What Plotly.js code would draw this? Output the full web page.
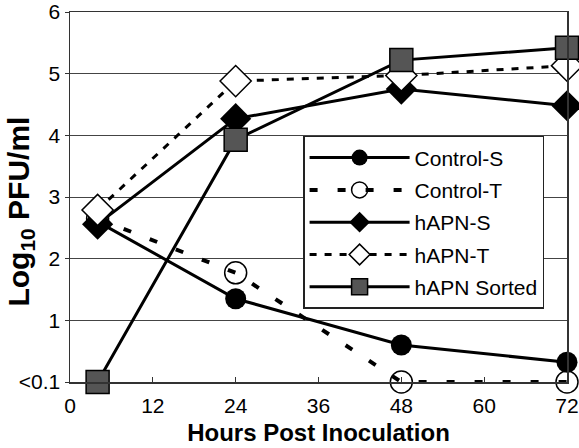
<!DOCTYPE html>
<html>
<head>
<meta charset="utf-8">
<script src="https://cdn.plot.ly/plotly-3.0.1.min.js"></script>
<style>html,body{margin:0;padding:0;background:#fff;}#chart{width:579px;height:448px;}</style>
</head>
<body>
<div id="chart"></div>
<script>
var hours = [4, 24, 48, 72];
var controlS = [2.6, 1.35, 0.6, 0.32];
var controlT = [2.65, 1.77, 0, 0];
var hapnS = [2.56, 4.27, 4.75, 4.48];
var hapnT = [2.79, 4.88, 4.97, 5.13];
var hapnSorted = [0, 3.93, 5.22, 5.42];
var xTicks = [0, 12, 24, 36, 48, 60, 72];
var yTickVals = [0, 1, 2, 3, 4, 5, 6];
var yTickText = ['<0.1', '1', '2', '3', '4', '5', '6'];

var traces = [
  {x: hours, y: controlS, name: 'Control-S', legendgroup: 'a', mode: 'lines+markers',
   line: {color: '#000', width: 3}, marker: {symbol: 'circle', size: 21, color: '#000'}},
  {x: hours, y: controlT, name: 'Control-T', legendgroup: 'b', mode: 'lines+markers',
   line: {color: '#000', width: 4, dash: '8px,20px'}, marker: {symbol: 'circle-open', size: 22, color: '#000', line: {width: 1.5, color: '#000'}}},
  {x: hours, y: hapnS, name: 'hAPN-S', legendgroup: 'c', mode: 'lines+markers',
   line: {color: '#000', width: 3}, marker: {symbol: 'diamond', size: 24, color: '#000'}},
  {x: hours, y: hapnT, name: 'hAPN-T', legendgroup: 'd', mode: 'lines+markers',
   line: {color: '#000', width: 3, dash: '7px,8px'}, marker: {symbol: 'diamond', size: 24, color: '#fff', line: {width: 1.5, color: '#000'}}},
  {x: hours, y: hapnSorted, name: 'hAPN Sorted', legendgroup: 'e', mode: 'lines+markers',
   line: {color: '#000', width: 3}, marker: {symbol: 'square', size: 23, color: '#555', line: {width: 1.5, color: '#000'}}}
];

var layout = {
  width: 579, height: 448,
  margin: {l: 70, r: 12, t: 12, b: 66},
  paper_bgcolor: '#fff', plot_bgcolor: '#fff',
  font: {family: 'Liberation Sans, Arial, sans-serif', color: '#000', size: 21},
  showlegend: true,
  legend: {x: 0.469, y: 0.665, xanchor: 'left', yanchor: 'top', bgcolor: '#fff',
    bordercolor: '#222', borderwidth: 1.5, itemwidth: 100, tracegroupgap: 2,
    traceorder: 'grouped', font: {size: 21, family: 'Liberation Sans, Arial, sans-serif'}},
  xaxis: {range: [0, 72], tickvals: xTicks, ticktext: xTicks.map(String), ticks: 'inside', ticklen: 5,
    tickcolor: '#333', showline: true, linecolor: '#333', linewidth: 1.5, mirror: true, showgrid: false,
    zeroline: false, tickfont: {size: 21}, ticklabeloverflow: 'allow', ticklabelstandoff: 4,
    title: {text: '<b>Hours Post Inoculation</b>', font: {size: 24}, standoff: 8}},
  yaxis: {range: [0, 6], tickvals: yTickVals, ticktext: yTickText, ticks: 'outside', ticklen: 4,
    tickcolor: '#333', showline: true, linecolor: '#333', linewidth: 1.5, mirror: true,
    showgrid: true, gridcolor: '#444', gridwidth: 1, zeroline: false, tickfont: {size: 21},
    ticklabeloverflow: 'allow'},
  annotations: [{text: '<b>Log<sub>10</sub> PFU/ml</b>', textangle: -90, xref: 'paper', yref: 'paper',
    x: -0.099, y: 0.46, xanchor: 'center', yanchor: 'middle', showarrow: false,
    font: {size: 30, color: '#000', family: 'Liberation Sans, Arial, sans-serif'}}]
};
traces.forEach(function(t){ t.cliponaxis = false; });
Plotly.newPlot('chart', traces, layout, {displayModeBar: false, staticPlot: true});
</script>
</body>
</html>
